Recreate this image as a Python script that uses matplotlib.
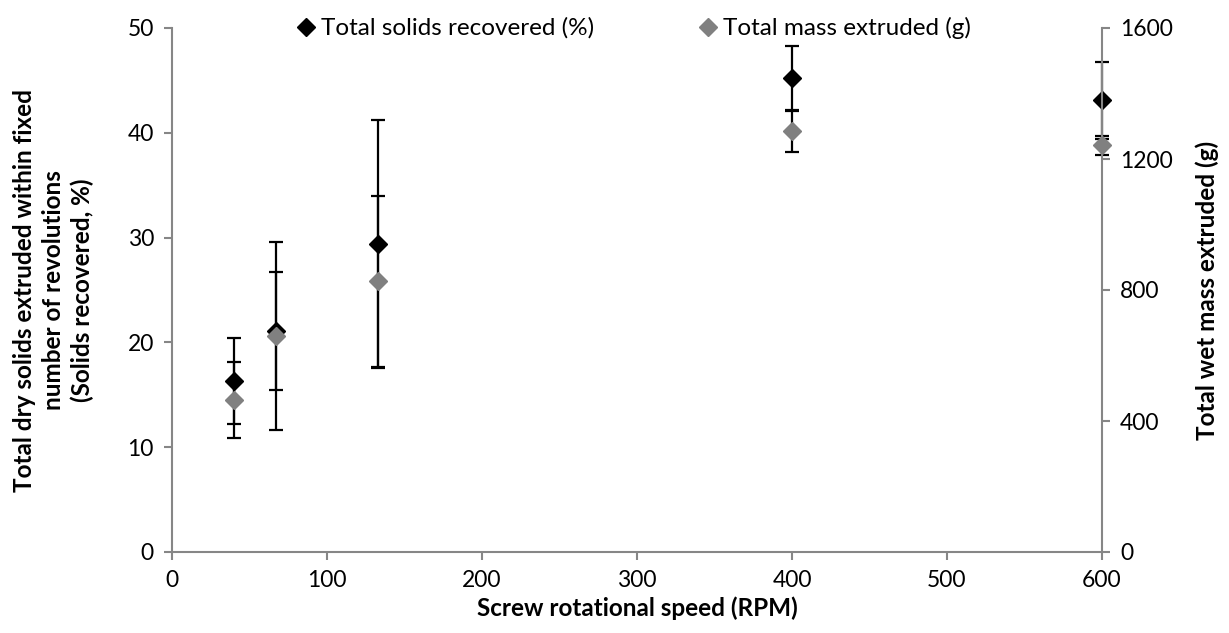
import matplotlib
matplotlib.use("Agg")
import matplotlib.pyplot as plt
from matplotlib.lines import Line2D

plt.rcParams['font.family'] = ['Lato', 'DejaVu Sans']

# screw speed (RPM)
rpm = [40, 67, 133, 400, 600]

# total solids recovered (%), left axis
solids = [16.3, 21.1, 29.4, 45.2, 43.1]
solids_err = [4.1, 5.6, 11.8, 3.1, 3.7]

# total mass extruded (g), right axis
mass = [464, 659, 826, 1286, 1242]
mass_err = [115, 288, 262, 64, 29]

axis_grey = "#868686"

fig = plt.figure(figsize=(12.29, 6.33), dpi=100)
ax = fig.add_axes([172 / 1229, 1 - 552 / 633, 930 / 1229, 524 / 633])
ax2 = ax.twinx()

# error bars first, markers on top
eb1 = ax.errorbar(rpm, solids, yerr=solids_err, fmt="none", ecolor="black",
                  elinewidth=1.6, capsize=5, capthick=1.6, zorder=2)
eb2 = ax2.errorbar(rpm, mass, yerr=mass_err, fmt="none", ecolor="black",
                   elinewidth=1.6, capsize=5, capthick=1.6, zorder=2)
for eb in (eb1, eb2):
    for part in eb.lines:
        for art in (part if isinstance(part, tuple) else [part]):
            if art is not None:
                art.set_clip_on(False)
ax.plot(rpm, solids, "D", color="black", ms=9, zorder=3, clip_on=False)
ax2.plot(rpm, mass, "D", color="#808080", ms=9, zorder=3, clip_on=False)

# put ax (black series) behind ax2
ax.set_zorder(1)
ax2.set_zorder(2)
ax.patch.set_visible(False)

ax.set_xlim(0, 600)
ax.set_ylim(0, 50)
ax2.set_ylim(0, 1600)
ax.set_xticks(range(0, 601, 100))
ax.set_yticks(range(0, 51, 10))
ax2.set_yticks(range(0, 1601, 400))

for a in (ax, ax2):
    a.spines["top"].set_visible(False)
    for s in ("left", "right", "bottom"):
        a.spines[s].set_color(axis_grey)
        a.spines[s].set_linewidth(1.5)
    a.tick_params(colors=axis_grey, labelcolor="black", labelsize=16.5,
                  length=6, width=1.5, direction="out", pad=7)
ax.spines["right"].set_visible(False)
ax2.spines["left"].set_visible(False)
ax2.spines["bottom"].set_visible(False)

ax.set_xlabel("Screw rotational speed (RPM)", fontsize=17.5, fontweight="bold", labelpad=4)
ax.set_ylabel("Total dry solids extruded within fixed\nnumber of revolutions\n(Solids recovered, %)",
              fontsize=17.5, fontweight="bold", labelpad=24, linespacing=1.3)
ax2.set_ylabel("Total wet mass extruded (g)", fontsize=17.5, fontweight="bold",
               labelpad=16)

handles = [Line2D([], [], marker="D", ls="none", color="black", ms=9),
           Line2D([], [], marker="D", ls="none", color="#808080", ms=9)]
ax.legend(handles, ["Total solids recovered (%)", "Total mass extruded (g)"],
          loc="center", bbox_to_anchor=(0.495, 1.0), ncol=2, frameon=False,
          fontsize=17.5, handletextpad=0.1, columnspacing=4.2, handlelength=1.0,
          borderpad=0)

fig.savefig("out.png", dpi=100)
